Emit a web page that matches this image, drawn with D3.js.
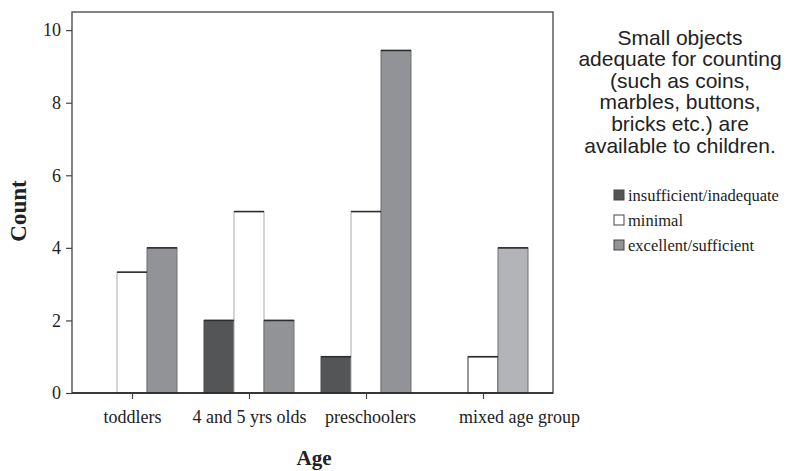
<!DOCTYPE html>
<html>
<head>
<meta charset="utf-8">
<script src="https://cdn.jsdelivr.net/npm/d3@7"></script>
<style>
  html, body { margin: 0; padding: 0; background: #fff; }
  svg { display: block; }
</style>
</head>
<body>
<svg id="chart" width="786" height="471"></svg>
<script>
// ---- data ----
const categories = ["toddlers", "4 and 5 yrs olds", "preschoolers", "mixed age group"];
const seriesNames = ["insufficient/inadequate", "minimal", "excellent/sufficient"];
const insufficient = [0, 2, 1, 0];
const minimal = [3.33, 5, 5, 1];
const excellent = [4, 2, 9.44, 4];
const yTicks = [0, 2, 4, 6, 8, 10];
const titleLines = ["Small objects", "adequate for counting", "(such as coins,", "marbles, buttons,", "bricks etc.) are", "available to children."];

const seriesValues = [insufficient, minimal, excellent];

// ---- styles ----
const fills = ["#545557", "#ffffff", "#929397"];
const strokes = ["#4a4a4b", "#a9a9a9", "#6d6e70"];
function fillFor(si, ci) {
  if (si === 2 && ci === 3) return "#b3b4b7";
  return fills[si];
}
function strokeFor(si, ci) {
  if (si === 1 && ci === 3) return "#333";
  return strokes[si];
}

const svg = d3.select("#chart");
const frame = { left: 72, right: 553, top: 12, bottom: 393 };

const y = d3.scaleLinear().domain([0, 10.5]).range([frame.bottom, frame.top]);
const x0 = d3.scaleBand().domain(categories).range([73.5, 541.5])
  .paddingInner(27 / 117).paddingOuter(27 / 234);
const x1 = d3.scaleBand().domain(seriesNames).range([0, x0.bandwidth()]);

const serif = "'Liberation Serif', 'Times New Roman', serif";
const sans = "'Liberation Sans', Arial, sans-serif";

// bars
const barData = [];
categories.forEach((c, ci) => {
  seriesNames.forEach((s, si) => {
    const v = seriesValues[si][ci];
    if (v > 0) barData.push({ c, ci, s, si, v });
  });
});

const g = svg.append("g");
g.selectAll("rect.bar").data(barData).enter().append("rect")
  .attr("class", "bar")
  .attr("x", d => x0(d.c) + x1(d.s))
  .attr("y", d => y(d.v))
  .attr("width", x1.bandwidth())
  .attr("height", d => y(0) - y(d.v))
  .attr("fill", d => fillFor(d.si, d.ci))
  .attr("stroke", d => strokeFor(d.si, d.ci))
  .attr("stroke-width", 1);

g.selectAll("line.top").data(barData).enter().append("line")
  .attr("x1", d => x0(d.c) + x1(d.s))
  .attr("x2", d => x0(d.c) + x1(d.s) + x1.bandwidth())
  .attr("y1", d => y(d.v))
  .attr("y2", d => y(d.v))
  .attr("stroke", "#2e2e2e")
  .attr("stroke-width", 1.6);

// frame
svg.append("rect")
  .attr("x", frame.left).attr("y", frame.top)
  .attr("width", frame.right - frame.left).attr("height", frame.bottom - frame.top)
  .attr("fill", "none").attr("stroke", "#505050").attr("stroke-width", 1.4);
svg.append("line")
  .attr("x1", frame.left).attr("x2", frame.right)
  .attr("y1", frame.bottom).attr("y2", frame.bottom)
  .attr("stroke", "#222").attr("stroke-width", 1.6);

// y axis
const yAxis = d3.axisLeft(y).tickValues(yTicks).tickSize(6).tickPadding(5);
const gy = svg.append("g").attr("transform", `translate(${frame.left},0)`).call(yAxis);
gy.select(".domain").remove();
gy.selectAll(".tick line").attr("stroke", "#444").attr("stroke-width", 1.2);
gy.selectAll(".tick text").attr("font-family", serif).attr("font-size", 18).attr("fill", "#222");

// x axis
const xAxis = d3.axisBottom(d3.scalePoint().domain(categories).range([
  x0(categories[0]) + x0.bandwidth() / 2,
  x0(categories[categories.length - 1]) + x0.bandwidth() / 2
])).tickSize(6).tickPadding(11);
const gx = svg.append("g").attr("transform", `translate(0,${frame.bottom})`).call(xAxis);
gx.select(".domain").remove();
gx.selectAll(".tick line").attr("stroke", "#444").attr("stroke-width", 1.2);
gx.selectAll(".tick text").attr("font-family", serif).attr("font-size", 18).attr("fill", "#222")
  .attr("dx", (d, i) => i === categories.length - 1 ? 36 : (i === 2 ? 4 : 0));

// axis titles
svg.append("text")
  .attr("transform", "translate(26,211) rotate(-90)")
  .attr("text-anchor", "middle")
  .attr("font-family", serif).attr("font-weight", "bold").attr("font-size", 23)
  .attr("fill", "#222")
  .text("Count");
svg.append("text")
  .attr("x", 314).attr("y", 465)
  .attr("text-anchor", "middle")
  .attr("font-family", serif).attr("font-weight", "bold").attr("font-size", 21)
  .attr("fill", "#222")
  .text("Age");

// legend title
svg.append("g").selectAll("text").data(titleLines).enter().append("text")
  .attr("x", 680)
  .attr("y", (d, i) => 44.5 + i * 21.6)
  .attr("text-anchor", "middle")
  .attr("font-family", sans).attr("font-size", 21)
  .attr("fill", "#222")
  .text(d => d);

// legend items
const leg = svg.append("g").selectAll("g").data(seriesNames).enter().append("g")
  .attr("transform", (d, i) => `translate(614,${195 + i * 25})`);
leg.append("rect")
  .attr("x", 0).attr("y", -5).attr("width", 10).attr("height", 10)
  .attr("fill", (d, i) => fills[i])
  .attr("stroke", "#444").attr("stroke-width", 1);
leg.append("text")
  .attr("x", 14).attr("y", 5.5)
  .attr("font-family", serif).attr("font-size", 16.5)
  .attr("fill", "#222")
  .text(d => d);
</script>
</body>
</html>
